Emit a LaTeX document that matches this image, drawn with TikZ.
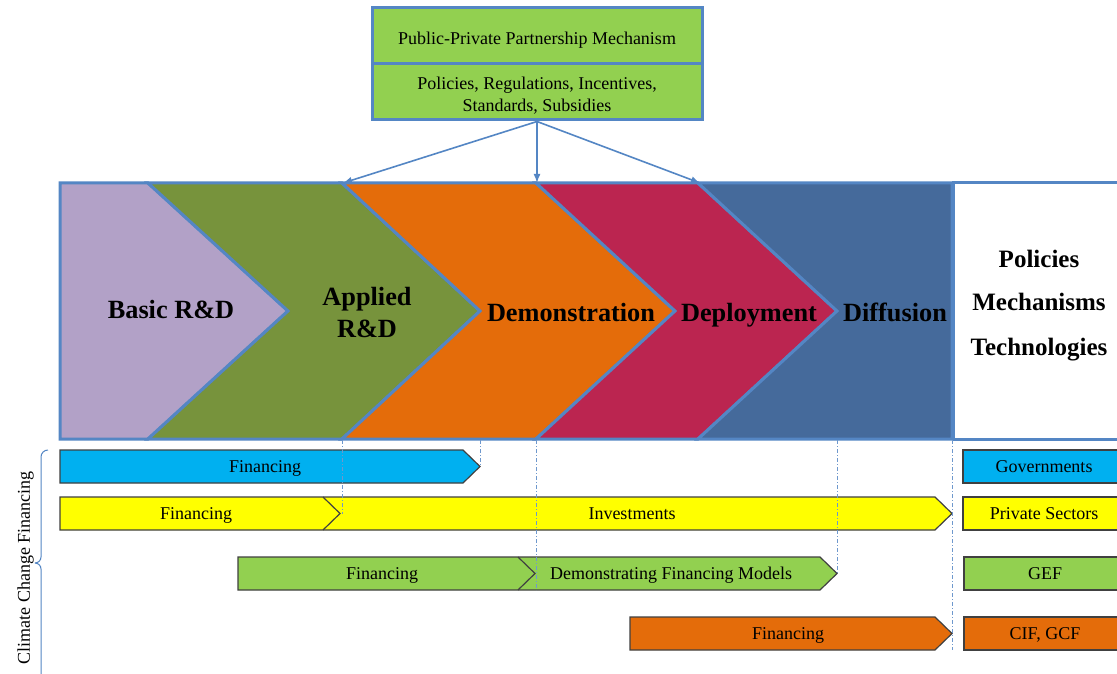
\documentclass[tikz,border=0pt]{standalone}
\usepackage{fontspec}
\setmainfont{Liberation Serif}
\usetikzlibrary{arrows.meta}
\definecolor{bblue}{RGB}{84,134,196}
\definecolor{cpurple}{RGB}{178,161,199}
\definecolor{cgreen}{RGB}{119,147,60}
\definecolor{corange}{RGB}{228,108,10}
\definecolor{ccrimson}{RGB}{187,37,80}
\definecolor{cdiff}{RGB}{69,106,155}
\definecolor{lgreen}{RGB}{146,208,80}
\definecolor{ccyan}{RGB}{0,176,240}
\definecolor{cyellow}{RGB}{255,255,0}
\newcommand\myfsmall{\fontsize{18}{22}\selectfont}
\newcommand\myfbig{\fontsize{26.3}{30}\selectfont\bfseries}
\newcommand\myfright{\fontsize{25}{30}\selectfont\bfseries}
\newcommand\mylower[1]{\raisebox{-4pt}[\height][\depth]{#1}}
\tikzset{
  band/.style={draw=bblue, line width=3pt, line join=miter},
  topbox/.style={draw=bblue, line width=3pt, fill=lgreen, minimum width=330pt, minimum height=56pt, align=center, font=\myfsmall, inner sep=0pt},
  arr/.style={draw=bblue, line width=1.6pt, -{Latex[length=9pt,width=7pt]}},
  bar/.style={draw=black!75, line width=1.2pt, line join=miter},
  vdash/.style={draw=bblue!85, line width=0.9pt, dash pattern=on 4pt off 2pt on 1pt off 2pt},
  big/.style={anchor=base, font=\myfbig, text=black},
  rbig/.style={anchor=base, font=\myfright, text=black},
  small/.style={anchor=base, font=\myfsmall, text=black},
}
\begin{document}
\begin{tikzpicture}[x=1pt,y=-1pt]
\useasboundingbox (0,0) rectangle (1117,674);
\fill[white] (0,0) rectangle (1117,674);

% top boxes
\node[topbox] (ppp) at (537,36) {\mylower{Public-Private Partnership Mechanism}};
\node[topbox] (pol) at (537,92) {\mylower{\begin{tabular}{@{}c@{}}Policies, Regulations, Incentives,\\Standards, Subsidies\end{tabular}}};

% band shapes
\path[band, fill=cpurple] (60,183)--(148,183)--(288,311)--(148,439)--(60,439)--cycle;
\path[band, fill=cgreen] (148,183)--(342,183)--(480,311)--(342,439)--(148,439)--(288,311)--cycle;
\path[band, fill=corange] (342,183)--(536,183)--(675,311)--(536,439)--(342,439)--(480,311)--cycle;
\path[band, fill=ccrimson] (536,183)--(698,183)--(837,311)--(698,439)--(536,439)--(675,311)--cycle;
\path[band, fill=cdiff] (698,183)--(952,183)--(952,439)--(698,439)--(837,311)--cycle;
\path[band, fill=white] (953,183) rectangle (1130,439);

% arrow targets
\coordinate (t1) at (343,183);
\coordinate (t2) at (537,183);
\coordinate (t3) at (700,183);
\draw[arr] (pol.south) -- (t1);
\draw[arr] (pol.south) -- (t2);
\draw[arr] (pol.south) -- (t3);

% band texts
\node[big] (basic) at (171,318) {Basic R\&D};
\node[big] (appl1) at (367,305) {Applied};
\node[big] (appl2) at (367,337) {R\&D};
\node[big] (demo) at (571,321) {Demonstration};
\node[big] (depl) at (749,321) {Deployment};
\node[big] (diff) at (895,321) {Diffusion};
\node[rbig] (rpol) at (1039,267) {Policies};
\node[rbig] (rmech) at (1039,310) {Mechanisms};
\node[rbig] (rtech) at (1039,355) {Technologies};

% bars
\path[bar, fill=ccyan] (60,450)--(463,450)--(480,466.5)--(463,483)--(60,483)--cycle;
\path[bar, fill=cyellow] (60,497)--(935,497)--(952,513.5)--(935,530)--(60,530)--cycle;
\draw[bar] (323,497)--(340,513.5)--(323,530);
\path[bar, fill=lgreen] (238,557)--(820,557)--(837,573.5)--(820,590)--(238,590)--cycle;
\draw[bar] (518,557)--(535,573.5)--(518,590);
\path[bar, fill=corange] (630,617)--(935,617)--(952,633.5)--(935,650)--(630,650)--cycle;

% legend boxes
\path[bar, fill=ccyan] (963,450) rectangle (1130,483);
\path[bar, fill=cyellow] (963,497) rectangle (1130,530);
\path[bar, fill=lgreen] (964,557) rectangle (1130,590);
\path[bar, fill=corange] (964,617) rectangle (1130,650);

% bar texts
\node[small] (f1) at (265,472.5) {Financing};
\node[small] (f2) at (196,519.5) {Financing};
\node[small] (inv) at (632,519.5) {Investments};
\node[small] (f3) at (382,579.5) {Financing};
\node[small] (dfm) at (671,579.5) {Demonstrating Financing Models};
\node[small] (f4) at (788,639.5) {Financing};
\node[small] (gov) at (1044,472.5) {Governments};
\node[small] (priv) at (1044,519.5) {Private Sectors};
\node[small] (gef) at (1045,579.5) {GEF};
\node[small] (cif) at (1045,639.5) {CIF, GCF};

% dashed guide lines
\coordinate (d1a) at (342,440); \coordinate (d1b) at (342,513.5);
\coordinate (d2a) at (480,440); \coordinate (d2b) at (480,466.5);
\coordinate (d3a) at (536,440); \coordinate (d3b) at (536,590);
\coordinate (d4a) at (837,440); \coordinate (d4b) at (837,573.5);
\coordinate (d5a) at (952,440); \coordinate (d5b) at (952,650);
\draw[vdash] (d1a) -- (d1b);
\draw[vdash] (d2a) -- (d2b);
\draw[vdash] (d3a) -- (d3b);
\draw[vdash] (d4a) -- (d4b);
\draw[vdash] (d5a) -- (d5b);

% brace and side label
\coordinate (br1) at (48,450);
\coordinate (br2) at (35,563);
\coordinate (br3) at (41,680);
\draw[bblue, line width=1pt] (br1) to[out=180,in=90] (41,457) -- (41,557) to[out=-90,in=0] (br2);
\draw[bblue, line width=1pt] (br2) to[out=0,in=90] (41,569) -- (br3);
\node[small, rotate=90] (ccf) at (30,568) {Climate Change Financing};
\end{tikzpicture}
\end{document}
